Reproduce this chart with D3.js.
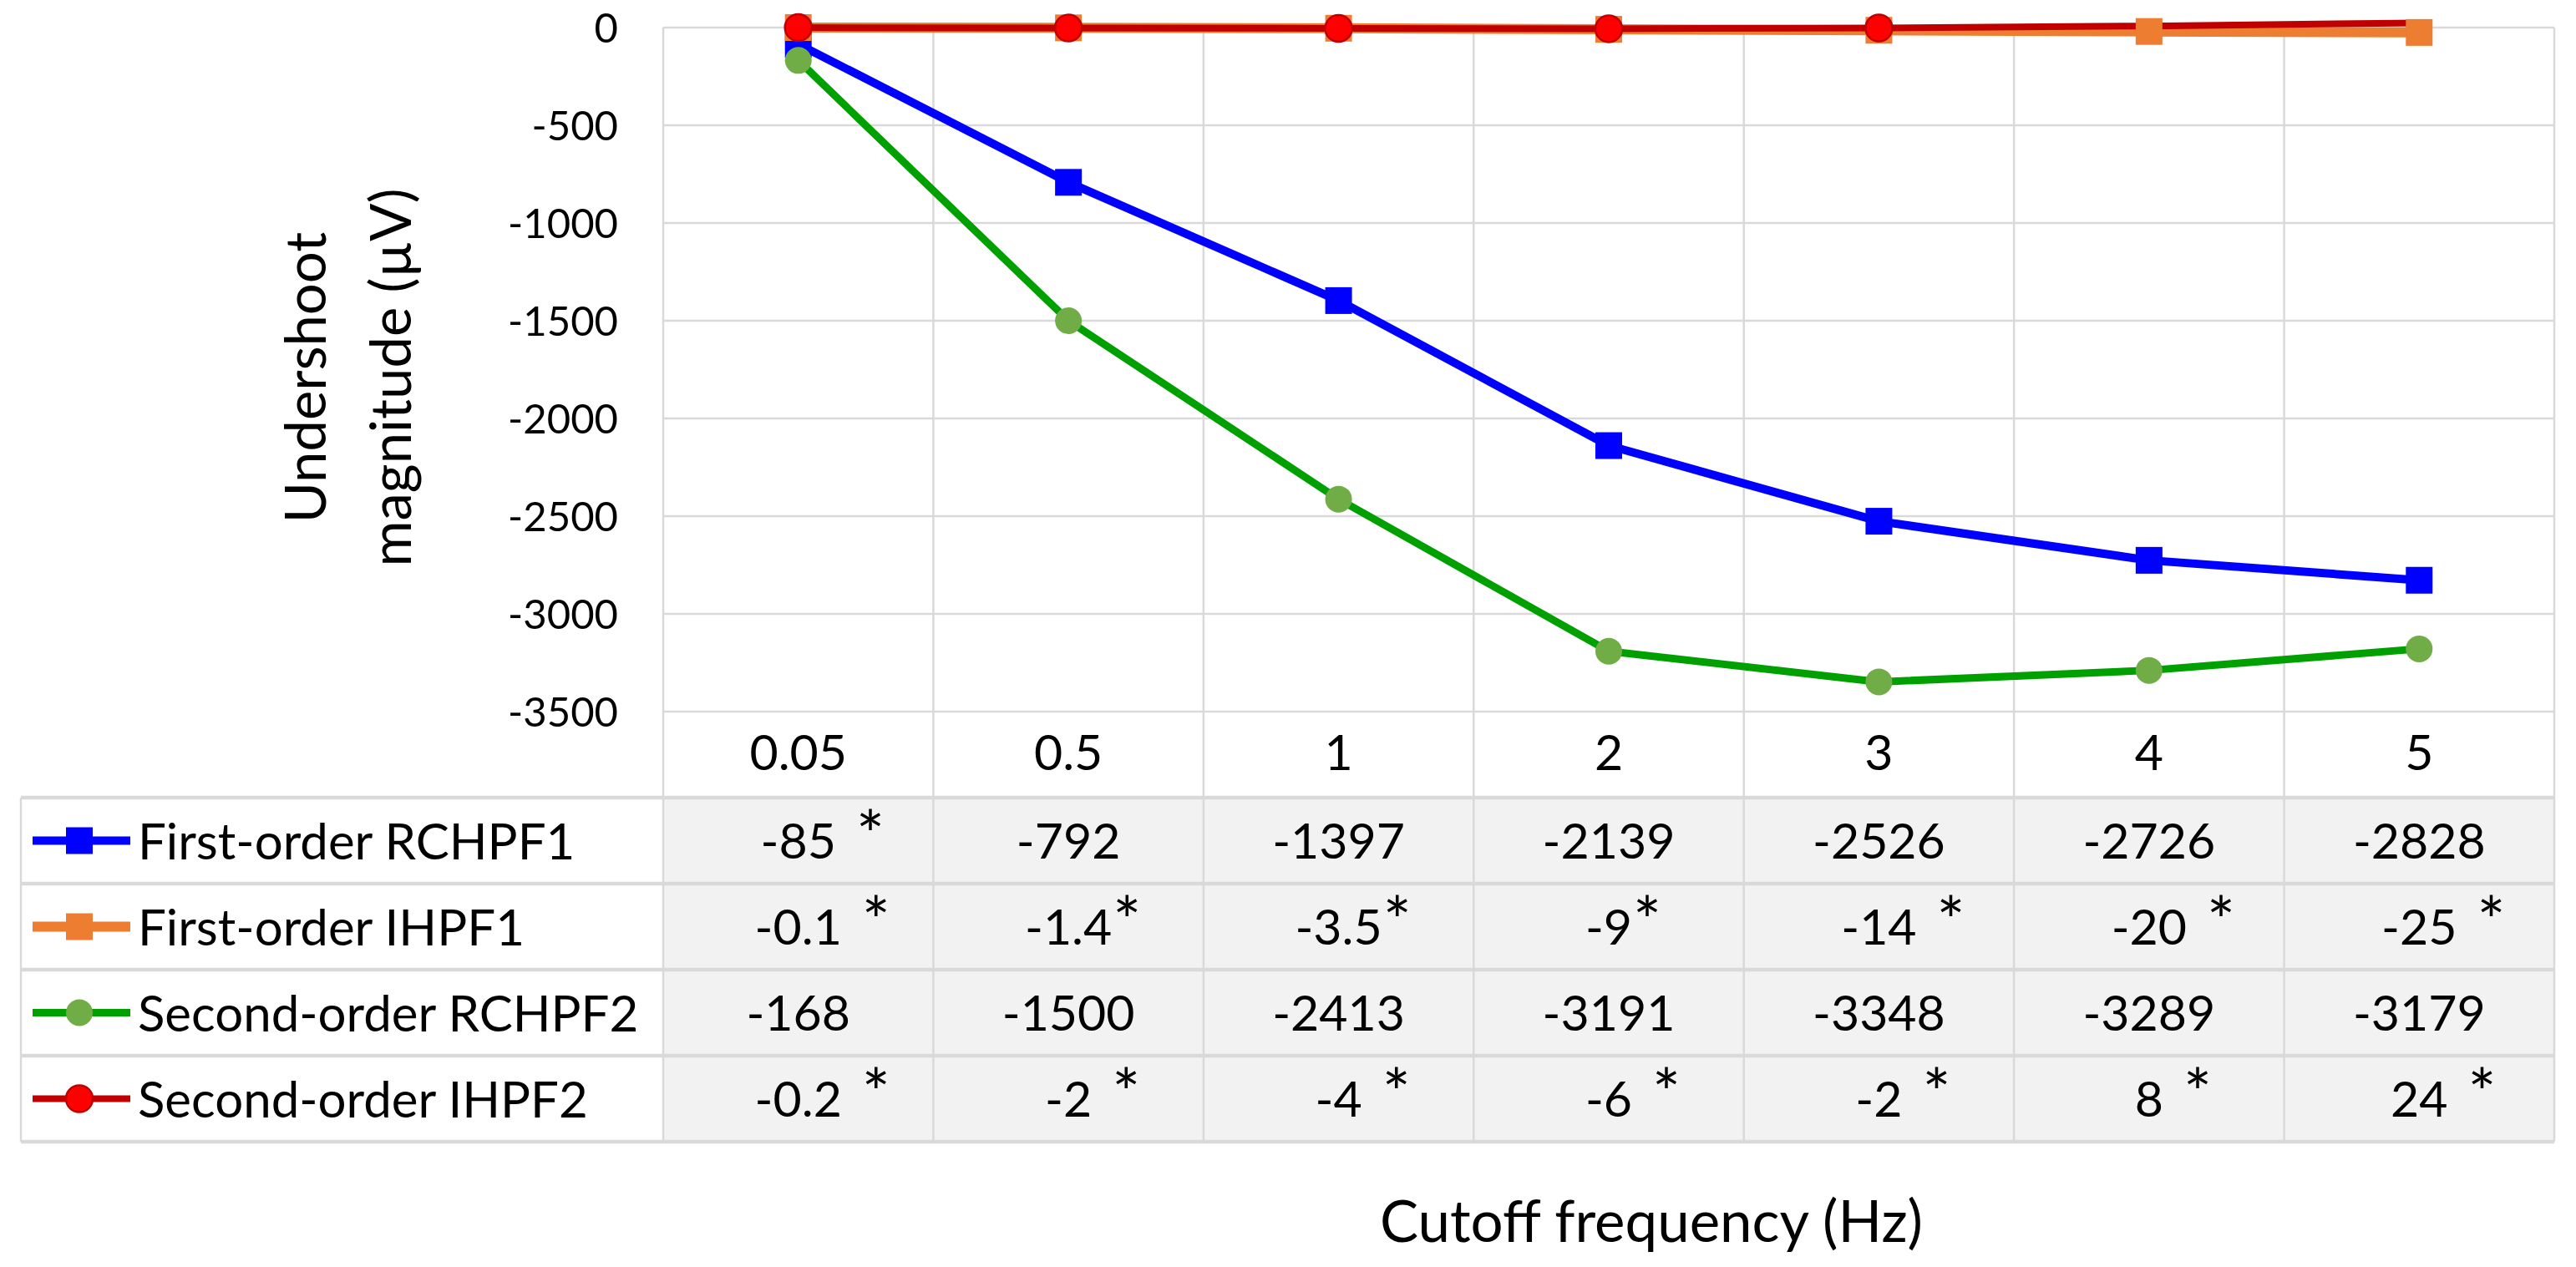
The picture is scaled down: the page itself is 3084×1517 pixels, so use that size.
<!DOCTYPE html>
<html>
<head>
<meta charset="utf-8">
<script src="https://cdn.jsdelivr.net/npm/d3@7"></script>
<style>
  html, body { margin: 0; padding: 0; background: #ffffff; }
  svg { display: block; }
  text { font-family: Lato, "Open Sans", sans-serif; fill: #000; }
</style>
</head>
<body>
<script>
// ---------------- DATA ----------------
const categories = ["0.05", "0.5", "1", "2", "3", "4", "5"];
const seriesNames = ["First-order RCHPF1", "First-order IHPF1", "Second-order RCHPF2", "Second-order IHPF2"];
const rchpf1 = [-85, -792, -1397, -2139, -2526, -2726, -2828];
const ihpf1 = [-0.1, -1.4, -3.5, -9, -14, -20, -25];
const rchpf2 = [-168, -1500, -2413, -3191, -3348, -3289, -3179];
const ihpf2 = [-0.2, -2, -4, -6, -2, 8, 24];
const rchpf1Labels = ["-85 *", "-792", "-1397", "-2139", "-2526", "-2726", "-2828"];
const ihpf1Labels = ["-0.1 *", "-1.4*", "-3.5*", "-9*", "-14 *", "-20 *", "-25 *"];
const rchpf2Labels = ["-168", "-1500", "-2413", "-3191", "-3348", "-3289", "-3179"];
const ihpf2Labels = ["-0.2 *", "-2 *", "-4 *", "-6 *", "-2 *", "8 *", "24 *"];
// in the original picture the last two IHPF2 markers are not drawn
const ihpf2MarkerShown = [true, true, true, true, true, false, false];
const yTicks = [0, -500, -1000, -1500, -2000, -2500, -3000, -3500];
const yTitleLines = ["Undershoot", "magnitude (\u00b5V)"];
const xTitle = "Cutoff frequency (Hz)";

// ---------------- LAYOUT ----------------
const W = 3084, H = 1517;
const plotLeft = 794, plotRight = 3058, plotTop = 33, plotBottom = 852;
const tableLeft = 25, tableTop = 955, rowH = 103;
const gridColor = "#d9d9d9";

const series = [
  { name: seriesNames[0], values: rchpf1, labels: rchpf1Labels, line: "#0000ff", fill: "#0000ff", stroke: "none", shape: "square", lw: 10 },
  { name: seriesNames[1], values: ihpf1, labels: ihpf1Labels, line: "#ed7d31", fill: "#ed7d31", stroke: "none", shape: "square", lw: 12 },
  { name: seriesNames[2], values: rchpf2, labels: rchpf2Labels, line: "#00a000", fill: "#70ad47", stroke: "none", shape: "circle", lw: 9 },
  { name: seriesNames[3], values: ihpf2, labels: ihpf2Labels, line: "#c00000", fill: "#ff0000", stroke: "#c00000", shape: "circle", lw: 8, shown: ihpf2MarkerShown }
];

const x = d3.scaleBand().domain(categories).range([plotLeft, plotRight]).paddingInner(0).paddingOuter(0);
const y = d3.scaleLinear().domain([-3500, 0]).range([plotBottom, plotTop]);
const xc = c => x(c) + x.bandwidth() / 2;
const tableBottom = tableTop + rowH * series.length;
const rowCenter = i => tableTop + rowH * i + rowH / 2;

const svg = d3.select("body").append("svg").attr("width", W).attr("height", H);

// ---------------- TABLE BACKGROUND ----------------
series.forEach((s, i) => {
  svg.append("rect")
    .attr("x", plotLeft).attr("y", tableTop + rowH * i)
    .attr("width", plotRight - plotLeft).attr("height", rowH)
    .attr("fill", "#f2f2f2");
});

// ---------------- GRID ----------------
const grid = svg.append("g");
yTicks.forEach(t => {
  grid.append("line")
    .attr("x1", plotLeft).attr("x2", plotRight)
    .attr("y1", y(t)).attr("y2", y(t))
    .attr("stroke", gridColor).attr("stroke-width", 2.5);
});
const bounds = categories.map(c => x(c)).concat([x.range()[1]]);
bounds.forEach(bx => {
  grid.append("line")
    .attr("x1", bx).attr("x2", bx)
    .attr("y1", plotTop).attr("y2", tableBottom)
    .attr("stroke", gridColor).attr("stroke-width", 2.5);
});
d3.range(series.length + 1).forEach(i => {
  grid.append("line")
    .attr("x1", tableLeft).attr("x2", plotRight)
    .attr("y1", tableTop + rowH * i).attr("y2", tableTop + rowH * i)
    .attr("stroke", gridColor).attr("stroke-width", 4.5);
});
grid.append("line")
  .attr("x1", tableLeft).attr("x2", tableLeft)
  .attr("y1", tableTop).attr("y2", tableBottom)
  .attr("stroke", gridColor).attr("stroke-width", 2.5);

// ---------------- Y AXIS LABELS ----------------
const yAxis = d3.axisLeft(y).tickValues(yTicks).tickSize(0).tickPadding(0).tickFormat(d3.format("d"));
const yg = svg.append("g").attr("transform", `translate(${740},0)`).call(yAxis);
yg.select(".domain").remove();
yg.selectAll("text")
  .attr("font-family", "Lato, 'Open Sans', sans-serif")
  .attr("font-size", 49).attr("fill", "#000").attr("dy", "0.35em")
  .text(d => String(d).replace("\u2212", "-"));

// ---------------- CATEGORY LABELS ----------------
svg.append("g").selectAll("text").data(categories).join("text")
  .attr("x", d => xc(d)).attr("y", 922)
  .attr("text-anchor", "middle").attr("font-size", 59)
  .text(d => d);

// ---------------- SERIES ----------------
const lineGen = d3.line().x((d, i) => xc(categories[i])).y(d => y(d));
const marker = (g, s, cx, cy, size) => {
  if (s.shape === "square") {
    g.append("rect").attr("x", cx - size / 2).attr("y", cy - size / 2)
      .attr("width", size).attr("height", size).attr("fill", s.fill);
  } else {
    g.append("circle").attr("cx", cx).attr("cy", cy).attr("r", size / 2)
      .attr("fill", s.fill).attr("stroke", s.stroke).attr("stroke-width", s.stroke === "none" ? 0 : 2.5);
  }
};
const drawLine = s => svg.append("path").datum(s.values)
  .attr("d", lineGen).attr("fill", "none")
  .attr("stroke", s.line).attr("stroke-width", s.lw).attr("stroke-linejoin", "round");
const drawMarkers = s => {
  const g = svg.append("g");
  s.values.forEach((v, i) => {
    if (!s.shown || s.shown[i]) marker(g, s, xc(categories[i]), y(v), 32);
  });
};
// blue and green
[series[0], series[2]].forEach(s => { drawLine(s); drawMarkers(s); });
// orange and red near zero: lines first, then markers
drawLine(series[1]);
drawLine(series[3]);
drawMarkers(series[1]);
drawMarkers(series[3]);

// ---------------- TABLE LEGEND + VALUES ----------------
series.forEach((s, i) => {
  const cy = rowCenter(i);
  const g = svg.append("g");
  g.append("line").attr("x1", 39).attr("x2", 156).attr("y1", cy).attr("y2", cy)
    .attr("stroke", s.line).attr("stroke-width", s.lw);
  marker(g, s, 95, cy, 32);
  g.append("text").attr("x", 165).attr("y", cy + 22).attr("font-size", 60).text(s.name);

  s.labels.forEach((lab, j) => {
    const hasStar = lab.indexOf("*") >= 0;
    const num = lab.replace("*", "").trim();
    const cx = xc(categories[j]);
    const t = g.append("text").attr("x", cx).attr("y", cy + 21)
      .attr("text-anchor", "middle").attr("font-size", 59).text(num);
    if (hasStar) {
      const len = t.node().getComputedTextLength();
      const spaced = /\s\*/.test(lab);
      g.append("text")
        .attr("x", cx + len / 2 + (spaced ? 24 : 1))
        .attr("y", cy + 21)
        .attr("font-size", 80).text("*");
    }
  });
});

// ---------------- AXIS TITLES ----------------
const yt = svg.append("text")
  .attr("transform", `translate(390,452) rotate(-90)`)
  .attr("text-anchor", "middle").attr("font-size", 67);
yt.selectAll("tspan").data(yTitleLines).join("tspan")
  .attr("x", 0).attr("dy", (d, i) => i === 0 ? 0 : 102)
  .text(d => d);

svg.append("text").attr("x", 1977).attr("y", 1487)
  .attr("text-anchor", "middle").attr("font-size", 69).text(xTitle);
</script>
</body>
</html>
